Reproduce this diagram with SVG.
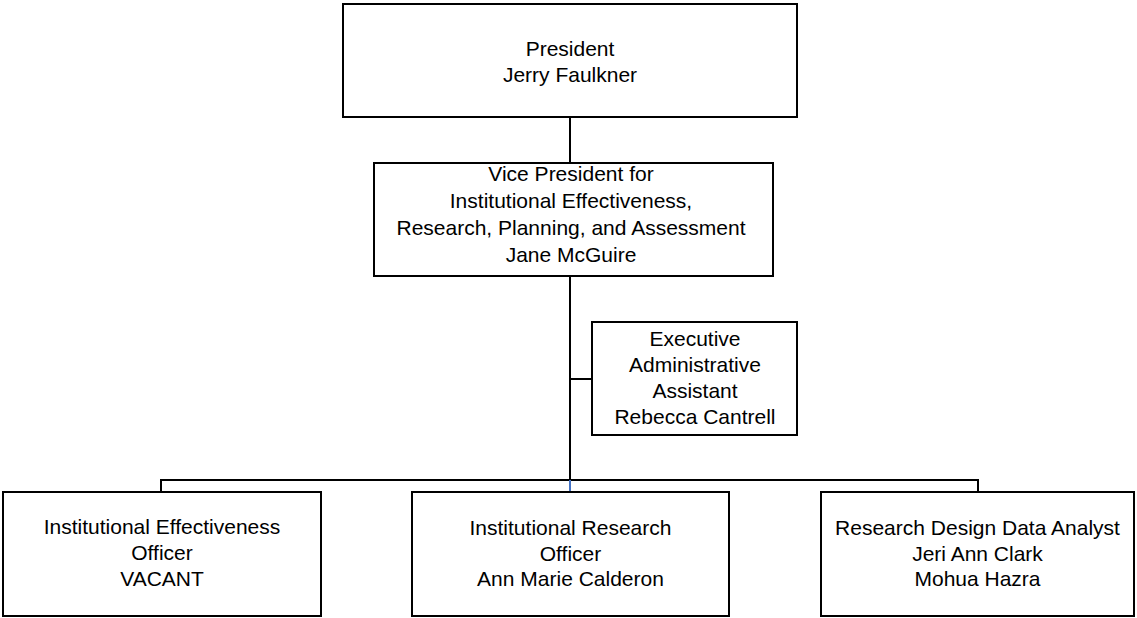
<svg xmlns="http://www.w3.org/2000/svg" width="1137" height="618" viewBox="0 0 1137 618">
<style>
.box{fill:#fff;stroke:#000;stroke-width:2}
.ln{fill:none;stroke:#000;stroke-width:2}
text{font-family:"Liberation Sans",Arial,sans-serif;font-size:21px;fill:#000;text-anchor:middle}
</style>
<rect width="1137" height="618" fill="#fff"/>
<g id="connectors">
<path class="ln" d="M570,117V163M570,276V480M570,379H592M161,492V480H978V492"/>
<path d="M570,480V492" fill="none" stroke="#4472C4" stroke-width="2"/>
</g>
<g id="president">
<rect class="box" x="343" y="4" width="454" height="113"/>
<text x="570" y="56">President</text>
<text x="570" y="82">Jerry Faulkner</text>
</g>
<g id="vp">
<rect class="box" x="374" y="163" width="399" height="113"/>
<text x="571" y="181">Vice President for</text>
<text x="571" y="208">Institutional Effectiveness,</text>
<text x="571" y="235">Research, Planning, and Assessment</text>
<text x="571" y="262">Jane McGuire</text>
</g>
<g id="assistant">
<rect class="box" x="592" y="322" width="205" height="113"/>
<text x="695" y="346">Executive</text>
<text x="695" y="372">Administrative</text>
<text x="695" y="398">Assistant</text>
<text x="695" y="424">Rebecca Cantrell</text>
</g>
<g id="ie-officer">
<rect class="box" x="3" y="492" width="318" height="124"/>
<text x="162" y="534">Institutional Effectiveness</text>
<text x="162" y="560">Officer</text>
<text x="162" y="586">VACANT</text>
</g>
<g id="ir-officer">
<rect class="box" x="412" y="492" width="317" height="124"/>
<text x="570.5" y="535">Institutional Research</text>
<text x="570.5" y="561">Officer</text>
<text x="570.5" y="586">Ann Marie Calderon</text>
</g>
<g id="analyst">
<rect class="box" x="821" y="492" width="313" height="124"/>
<text x="977.5" y="535">Research Design Data Analyst</text>
<text x="977.5" y="561">Jeri Ann Clark</text>
<text x="977.5" y="586">Mohua Hazra</text>
</g>
</svg>
